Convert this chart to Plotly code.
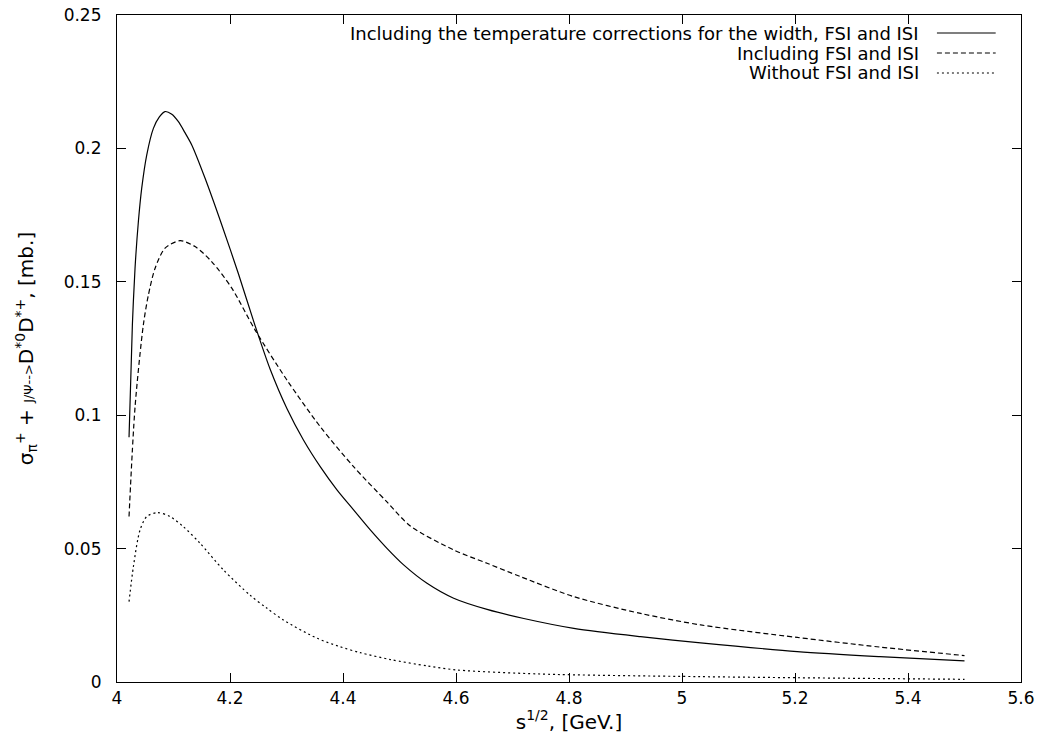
import plotly.graph_objects as go

# Solid: including temperature corrections for the width, FSI and ISI
x_solid = [4.0213, 4.0272, 4.0319, 4.0378, 4.0437, 4.0526, 4.0644, 4.075, 4.085, 4.097,
           4.1087, 4.12, 4.1323, 4.1559, 4.1855, 4.2149, 4.2445, 4.2711, 4.3007, 4.330,
           4.3597, 4.3893, 4.4187, 4.4483, 4.4778, 4.5073, 4.5487, 4.5959, 4.655, 4.72,
           4.8085, 4.9266, 5.033, 5.204, 5.35, 5.5]
y_solid = [0.0917, 0.1338, 0.155, 0.1725, 0.185, 0.1975, 0.2075, 0.2118, 0.2138, 0.2128,
           0.2100, 0.206, 0.2013, 0.1888, 0.1713, 0.1530, 0.1335, 0.1172, 0.1025, 0.0907,
           0.0807, 0.072, 0.0645, 0.057, 0.0501, 0.0439, 0.037, 0.0314, 0.0272, 0.0238,
           0.0201, 0.017, 0.0147, 0.0114, 0.0095, 0.0079]

# Dashed: including FSI and ISI
x_dash = [4.0213, 4.032, 4.0466, 4.0555, 4.0673, 4.085, 4.1116, 4.1382, 4.1678, 4.2032,
          4.2445, 4.3007, 4.3597, 4.4187, 4.4778, 4.5191, 4.5959, 4.655, 4.714, 4.8085,
          4.9266, 5.033, 5.204, 5.35, 5.5]
y_dash = [0.062, 0.1032, 0.1338, 0.145, 0.155, 0.1626, 0.1654, 0.1632, 0.1575, 0.1476,
          0.1319, 0.1132, 0.0957, 0.0807, 0.0675, 0.0585, 0.0495, 0.0445, 0.0395, 0.032,
          0.0257, 0.0214, 0.0167, 0.0131, 0.0099]

# Dotted: without FSI and ISI
x_dot = [4.0213, 4.029, 4.0408, 4.0526, 4.0715, 4.0940, 4.1175, 4.147, 4.1884, 4.2357,
         4.265, 4.2947, 4.354, 4.395, 4.4305, 4.484, 4.55, 4.602, 4.749, 5.033, 5.5]
y_dot = [0.0301, 0.0432, 0.057, 0.062, 0.0635, 0.0620, 0.0582, 0.052, 0.042, 0.0325,
         0.0277, 0.0232, 0.0164, 0.0132, 0.0110, 0.0084, 0.0060, 0.0045, 0.003, 0.002,
         0.001]

legend_labels = ["Including the temperature corrections for the width, FSI and ISI",
                 "Including FSI and ISI",
                 "Without FSI and ISI"]
dashes = ["solid", "5px,3px", "2px,3px"]

x_ticks = [4, 4.2, 4.4, 4.6, 4.8, 5, 5.2, 5.4, 5.6]
x_tick_text = ["4", "4.2", "4.4", "4.6", "4.8", "5", "5.2", "5.4", "5.6"]
y_ticks = [0, 0.05, 0.1, 0.15, 0.2, 0.25]
y_tick_text = ["0", "0.05", "0.1", "0.15", "0.2", "0.25"]

FONT = "DejaVu Sans, Liberation Sans, sans-serif"

fig = go.Figure()
for xs, ys, d, name in zip([x_solid, x_dash, x_dot], [y_solid, y_dash, y_dot], dashes, legend_labels):
    fig.add_trace(go.Scatter(x=xs, y=ys, mode="lines", name=name,
                             line=dict(color="black", width=1.2, dash=d, shape="spline", smoothing=0.8),
                             showlegend=False))

# gnuplot-style key: right-aligned text followed by a sample line
row_y = [33, 53, 73]
top, bottom = 15, 682
for lab, d, ry in zip(legend_labels, dashes, row_y):
    py = 1 - (ry - top) / (bottom - top)
    fig.add_annotation(x=0.889, y=py, xref="paper", yref="paper", text=lab,
                       showarrow=False, xanchor="right", yanchor="middle",
                       font=dict(family=FONT, size=18, color="black"))
    fig.add_shape(type="line", xref="paper", yref="paper", x0=0.907, x1=0.972, y0=py, y1=py,
                  line=dict(color="black", width=1.2, dash=d))

ytitle = ("σ<sub>π</sub><sup>+</sup> + <span style='font-size:13px'>J/Ψ--></span>"
          "D<sup>*0</sup>D<sup>*+</sup>, [mb.]")

fig.update_layout(
    width=1035, height=743,
    margin=dict(l=109, r=22, t=7, b=69, autoexpand=False),
    paper_bgcolor="white", plot_bgcolor="white",
    font=dict(family=FONT, size=17, color="black"),
    xaxis=dict(range=[4, 5.6], tickvals=x_ticks, ticktext=x_tick_text, automargin=False,
               ticks="inside", ticklen=9, tickcolor="black", mirror="ticks",
               ticklabeloverflow="allow",
               showline=True, linecolor="black", linewidth=1.2, showgrid=False, zeroline=False,
               title=dict(text="s<sup>1/2</sup>, [GeV.]", standoff=2)),
    yaxis=dict(range=[0, 0.25], tickvals=y_ticks, ticktext=y_tick_text, automargin=False,
               ticks="inside", ticklen=9, tickcolor="black", mirror="ticks",
               ticklabelstandoff=11, ticklabeloverflow="allow",
               showline=True, linecolor="black", linewidth=1.2, showgrid=False, zeroline=False,
               title=dict(text=ytitle, standoff=24)),
)

fig.write_html("out.html")
